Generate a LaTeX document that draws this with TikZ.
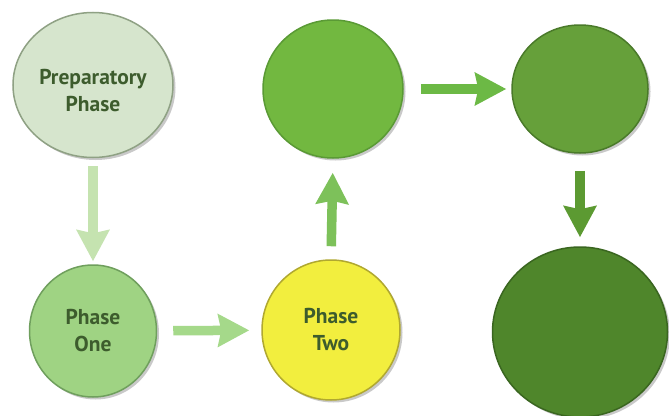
\documentclass[tikz,border=0pt]{standalone}
\usepackage{fontspec}
\setmainfont{PT Sans}
\usetikzlibrary{shapes.geometric,arrows.meta,shadows}
\definecolor{txtgreen}{HTML}{3D5C2D}
\definecolor{prepfill}{HTML}{D6E5CD}\definecolor{prepline}{HTML}{8FA184}
\definecolor{onefill}{HTML}{9FD383}\definecolor{oneline}{HTML}{6F9F5D}
\definecolor{twofill}{HTML}{F2EE3E}\definecolor{twoline}{HTML}{B0A830}
\definecolor{tmfill}{HTML}{72B840}\definecolor{tmline}{HTML}{5A9A35}
\definecolor{trfill}{HTML}{66A03A}\definecolor{trline}{HTML}{4A7A2A}
\definecolor{brfill}{HTML}{4F862B}\definecolor{brline}{HTML}{3A6620}
\definecolor{arA}{HTML}{C5E3B0}\definecolor{arB}{HTML}{A5D98A}
\definecolor{arC}{HTML}{7DC15A}\definecolor{arD}{HTML}{6CB945}
\definecolor{arE}{HTML}{5C9A32}
\tikzset{
  phasetext/.style={align=center, font=\fontsize{21.5}{27}\selectfont\bfseries, text=txtgreen},
  phase/.style={ellipse, inner sep=0pt, line width=1.5pt, phasetext,
    drop shadow={shadow xshift=2.5pt, shadow yshift=-2.5pt, opacity=0.35, fill=black!60}},
  fatarrow/.style={line width=9.5pt, -{Stealth[length=31pt 0 0, width=32pt 0 0, inset=3pt 0 0]}},
}
\begin{document}
\begin{tikzpicture}[x=1pt,y=-1pt]
\fill[white] (0,0) rectangle (669,415);
\useasboundingbox (0,0) rectangle (669,415);
\node[phase, fill=prepfill, draw=prepline, minimum width=160pt, minimum height=145pt,
  label={[phasetext, inner sep=0pt, yshift=-6pt]center:{Preparatory\\Phase}}] (prep) at (93,85) {};
\node[phase, fill=onefill, draw=oneline, minimum width=127pt, minimum height=132pt] (one) at (93,331) {Phase\\One};
\node[phase, fill=twofill, draw=twoline, minimum width=138pt, minimum height=140pt] (two) at (331,330) {Phase\\Two};
\node[phase, fill=tmfill, draw=tmline, minimum width=140pt, minimum height=138pt] (tm) at (333,89) {};
\node[phase, fill=trfill, draw=trline, minimum width=136pt, minimum height=128pt] (tr) at (580,89) {};
\node[phase, fill=brfill, draw=brline, minimum width=175pt, minimum height=170pt] (br) at (580,332) {};
\draw[fatarrow, arA, shorten <=8pt, shorten >=3pt] (prep) -- (one);
\draw[fatarrow, arB, shorten <=16pt, shorten >=12pt] (one) -- (two);
\draw[fatarrow, arC, shorten <=13pt, shorten >=14pt] (two.north) -- (tm.south);
\draw[fatarrow, arD, shorten <=17pt, shorten >=5pt] (tm) -- (tr);
\draw[fatarrow, arE, shorten <=17pt, shorten >=9pt] (tr) -- (br);
\end{tikzpicture}
\end{document}
